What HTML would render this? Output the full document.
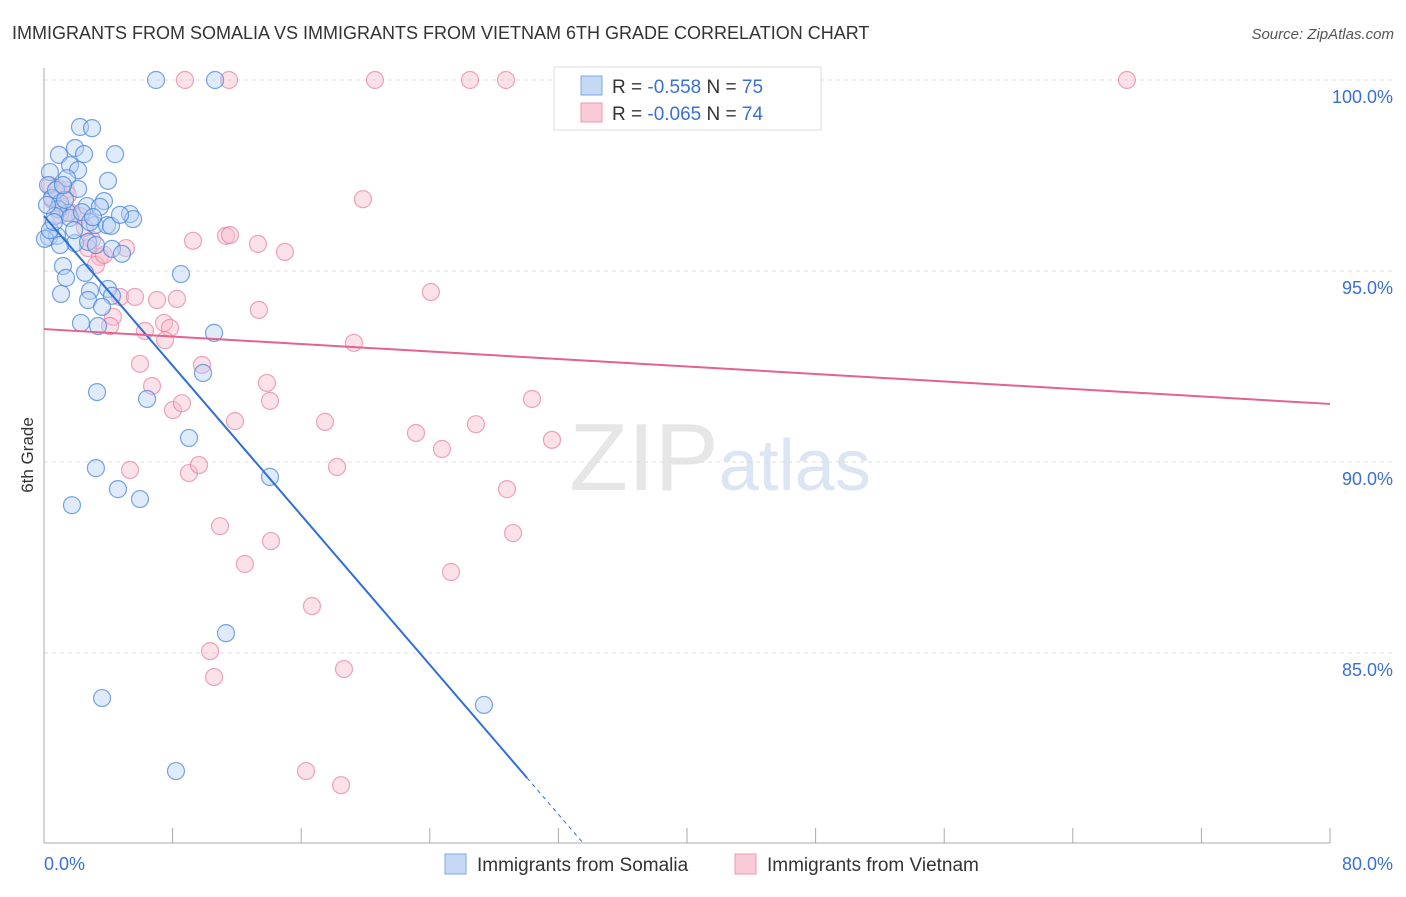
<!DOCTYPE html>
<html><head><meta charset="utf-8"><style>
body{margin:0;background:#fff;font-family:"Liberation Sans",sans-serif;}
svg text{font-family:"Liberation Sans",sans-serif;}
</style></head><body>
<svg id="chart" width="1406" height="892" xmlns="http://www.w3.org/2000/svg">
<text x="12" y="39" font-size="18" fill="#333">IMMIGRANTS FROM SOMALIA VS IMMIGRANTS FROM VIETNAM 6TH GRADE CORRELATION CHART</text>
<text x="1394" y="39" font-size="15" fill="#555" text-anchor="end" font-style="italic">Source: ZipAtlas.com</text>
<text transform="translate(33,455) rotate(-90)" font-size="17" fill="#333" text-anchor="middle">6th Grade</text>
<text x="720" y="490" font-size="96" text-anchor="middle" fill="#e6e6e6" font-family="Liberation Serif">ZIP<tspan fill="#dbe5f3" font-family="Liberation Sans" font-size="72">atlas</tspan></text>
<g id="grid"></g><g id="axes"></g><g id="pts"></g><g id="trend"></g>
<g>
<rect x="554" y="67" width="267" height="63" fill="#fff" stroke="#ddd"/>
<rect x="581" y="76" width="21" height="19" fill="#c5d9f5" stroke="#7fa8e0"/>
<text x="612" y="93" font-size="19" fill="#333">R = <tspan fill="#3a70d0">-0.558</tspan>   N = <tspan fill="#3a70d0">75</tspan></text>
<rect x="581" y="103" width="21" height="19" fill="#f9cbd8" stroke="#eb9ab2"/>
<text x="612" y="120" font-size="19" fill="#333">R = <tspan fill="#3a70d0">-0.065</tspan>   N = <tspan fill="#3a70d0">74</tspan></text>
</g>
<g>
<rect x="445" y="854" width="21" height="20" fill="#c5d9f5" stroke="#7fa8e0"/>
<text x="477" y="871" font-size="19" fill="#333">Immigrants from Somalia</text>
<rect x="735" y="854" width="21" height="20" fill="#f9cbd8" stroke="#eb9ab2"/>
<text x="767" y="871" font-size="19" fill="#333">Immigrants from Vietnam</text>
</g>
</svg>
<script>
const somaliaX=[6.97,10.64,2.24,2.99,1.93,0.93,2.49,4.42,1.62,2.12,0.37,1.43,3.98,0.25,2.12,0.50,1.00,2.67,3.73,3.48,1.49,0.87,5.35,5.54,3.17,3.92,4.17,0.31,0.81,1.93,2.74,4.23,4.85,1.18,2.55,8.52,1.37,1.06,2.86,3.98,4.23,2.74,3.61,2.30,3.36,10.58,9.89,3.30,6.41,9.02,3.23,14.06,4.60,5.97,1.74,11.32,3.61,27.37,8.21,0.06,0.37,0.68,1.62,4.73,2.36,0.75,2.86,1.31,0.19,1.18,3.23,1.87,0.62,1.00,3.05];
const somaliaY=[100,100,98.77,98.74,98.22,98.04,98.06,98.06,97.77,97.64,97.59,97.43,97.36,97.25,97.15,96.91,96.78,96.70,96.83,96.68,96.52,96.62,96.49,96.36,96.20,96.20,96.18,95.89,95.92,95.73,95.76,95.58,95.45,95.13,94.95,94.92,94.82,94.40,94.48,94.53,94.35,94.24,94.06,93.64,93.56,93.38,92.33,91.83,91.65,90.63,89.84,89.61,89.29,89.03,88.87,85.52,83.82,83.64,81.91,95.84,96.07,96.44,96.39,96.47,96.54,97.12,96.28,96.86,96.73,97.25,95.68,96.07,96.28,95.68,96.41];
const vietnamX=[8.77,11.51,20.59,26.50,28.74,67.37,43.17,0.37,0.87,1.37,0.50,1.12,1.74,2.24,2.99,2.74,3.48,3.23,5.10,3.73,9.27,11.32,11.57,13.31,14.99,19.84,24.07,13.37,4.73,5.66,7.03,8.27,4.29,4.11,6.28,7.47,7.84,7.53,19.28,5.97,6.72,13.87,14.06,9.83,30.36,8.02,8.58,11.88,17.48,23.14,26.87,24.76,31.60,5.35,9.02,9.64,18.23,28.80,10.95,14.12,29.18,12.50,25.32,16.67,10.33,10.58,18.66,16.30,18.48,1.00,2.55,1.49];
const vietnamY=[100,100,100,100,100,100,100,97.25,97.17,97.12,96.86,96.65,96.52,96.44,95.81,95.60,95.37,95.16,95.60,95.42,95.79,95.92,95.94,95.71,95.50,96.88,94.45,93.98,94.32,94.32,94.24,94.27,93.80,93.56,93.43,93.64,93.51,93.19,93.12,92.57,91.99,92.07,91.60,92.54,91.65,91.36,91.54,91.07,91.05,90.76,90.99,90.34,90.58,89.79,89.71,89.92,89.87,89.29,88.32,87.93,88.14,87.33,87.12,86.23,85.05,84.37,84.58,81.91,81.54,96.47,96.13,96.99];
const somaliaTrend=[96.44,-0.4895];
const vietnamTrend=[93.48,-0.0245];
const yTicks=[100,95,90,85];
const xTickVals=[0,8,16,24,32,40,48,56,64,72,80];
const NS="http://www.w3.org/2000/svg";
const sx=v=>44+v*16.075, sy=v=>80+(100-v)*38.2;
function mk(t,a,p){const e=document.createElementNS(NS,t);for(const k in a)e.setAttribute(k,a[k]);p.appendChild(e);return e;}
const grid=document.getElementById('grid'),axes=document.getElementById('axes'),pts=document.getElementById('pts'),tr=document.getElementById('trend');
yTicks.forEach(v=>{
const l=mk('line',{x1:44,x2:1393,y1:sy(v),y2:sy(v),stroke:'#ddd','stroke-dasharray':'4,4'},grid);


const t=mk('text',{x:1393,y:sy(v)+23,'font-size':18,fill:'#3a70d0','text-anchor':'end'},axes);t.textContent=v.toFixed(1)+'%';


});
let a=mk('line',{x1:44,x2:44,y1:68,y2:843,stroke:'#aaa'},axes);


a=mk('line',{x1:44,x2:1330,y1:843,y2:843,stroke:'#aaa'},axes);


xTickVals.forEach(v=>{const l=mk('line',{x1:sx(v),x2:sx(v),y1:828,y2:843,stroke:'#aaa'},axes);

});
[[0,'0.0%','start',44],[80,'80.0%','end',1393]].forEach(d=>{const t=mk('text',{x:d[3],y:870,'font-size':18,fill:'#3a70d0','text-anchor':d[2]},axes);t.textContent=d[1];

});
function dots(X,Y,f,s,name){X.forEach((x,i)=>{const c=mk('circle',{cx:sx(x),cy:sy(Y[i]),r:8.5,fill:f,'fill-opacity':0.45,stroke:s,'stroke-opacity':0.7,'stroke-width':1.2},pts);

});}
dots(vietnamX,vietnamY,'#f7bccd','#e87fa0','vietnam-point');
dots(somaliaX,somaliaY,'#b9d1f3','#3f7fdb','somalia-point');
let l=mk('line',{x1:sx(0),y1:sy(somaliaTrend[0]),x2:sx(30.05),y2:sy(somaliaTrend[0]+somaliaTrend[1]*30.05),stroke:'#2f6fd8','stroke-width':2},tr);


const xe=(somaliaTrend[0]-80)/-somaliaTrend[1];
l=mk('line',{x1:sx(30.05),y1:sy(somaliaTrend[0]+somaliaTrend[1]*30.05),x2:sx(xe),y2:sy(80),stroke:'#2f6fd8','stroke-width':1,'stroke-dasharray':'4,4'},tr);


l=mk('line',{x1:sx(0),y1:sy(vietnamTrend[0]),x2:sx(80),y2:sy(vietnamTrend[0]+vietnamTrend[1]*80),stroke:'#e5628b','stroke-width':2},tr);


</script>
</body></html>
